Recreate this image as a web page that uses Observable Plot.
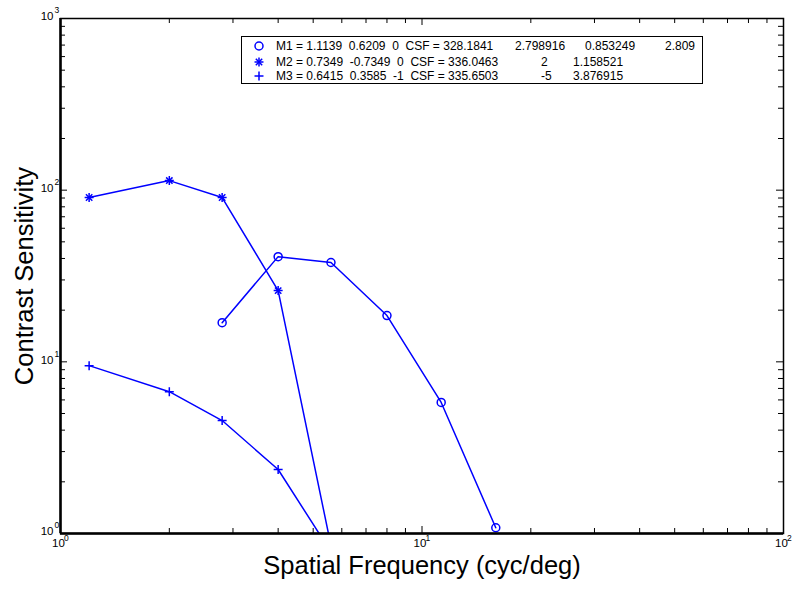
<!DOCTYPE html>
<html>
<head>
<meta charset="utf-8">
<script src="https://cdn.jsdelivr.net/npm/d3@7"></script>
<script src="https://cdn.jsdelivr.net/npm/@observablehq/plot@0.6"></script>
<style>
  html, body { margin: 0; padding: 0; background: #fff; }
  #wrap { position: relative; width: 793px; height: 590px; font-family: "Liberation Sans", Arial, sans-serif; }
  #legend { position: absolute; left: 241px; top: 36px; width: 460px; height: 46px; border: 1.5px solid #000; background: #fff; }
  .row { position: absolute; left: 0; height: 14px; line-height: 14px; font-size: 12px; white-space: pre; color: #000; }
  .row span { position: absolute; top: 0; }
  .row svg { position: absolute; top: -3px; overflow: visible; }
</style>
</head>
<body>
<div id="wrap"><div id="legend"></div></div>
<script>
// ---- data ----
const m1Freq = [2.8, 4, 5.6, 8, 11.3, 16];
const m1CSF  = [16.9, 41.0, 37.9, 18.6, 5.8, 1.08];
const m2Freq = [1.2, 2, 2.8, 4, 5.6];
const m2CSF  = [90.6, 113.7, 90.6, 26.0, 0.85];
const m3Freq = [1.2, 2, 2.8, 4, 5.6];
const m3CSF  = [9.5, 6.7, 4.55, 2.36, 0.78];

const xMajor = [1, 10, 100];
const xMinor = [2, 3, 4, 5, 6, 7, 8, 9, 20, 30, 40, 50, 60, 70, 80, 90];
const yMajor = [1, 10, 100, 1000];
const yMinor = [2, 3, 4, 5, 6, 7, 8, 9, 20, 30, 40, 50, 60, 70, 80, 90, 200, 300, 400, 500, 600, 700, 800, 900];

const legendMain = [
  "M1 = 1.1139  0.6209  0  CSF = 328.1841",
  "M2 = 0.7349  -0.7349  0  CSF = 336.0463",
  "M3 = 0.6415  0.3585  -1  CSF = 335.6503"
];
const legendCol2 = ["2.798916", "2", "-5"];
const legendCol3 = ["0.853249", "1.158521", "3.876915"];
const legendCol4 = ["2.809", "", ""];
const legendSymbols = ["circle", "asterisk", "plus"];

const xLabel = "Spatial Frequency (cyc/deg)";
const yLabel = "Contrast Sensitivity";

// ---- build ----
const blue = "#0000ff";
const toRows = (xs, ys) => xs.map((x, i) => ({x, y: ys[i]}));
const s1 = toRows(m1Freq, m1CSF), s2 = toRows(m2Freq, m2CSF), s3 = toRows(m3Freq, m3CSF);

const W = 793, H = 590, mL = 60, mR = 10, mT = 18, mB = 57;
const pw = W - mL - mR, ph = H - mT - mB;
const majLen = 7, minLen = 5;
const log10 = d => String(Math.round(Math.log10(d)));
const inRange = d => d.y >= 1;

const chart = Plot.plot({
  width: W, height: H,
  marginLeft: mL, marginRight: mR, marginTop: mT, marginBottom: mB,
  style: {fontFamily: "'Liberation Sans', Arial, sans-serif", background: "#fff", color: "#000"},
  x: {type: "log", domain: [1, 100], axis: null},
  y: {type: "log", domain: [1, 1000], axis: null},
  marks: [
    // lines
    Plot.line(s1, {x: "x", y: "y", stroke: blue, strokeWidth: 1.5, clip: true}),
    Plot.line(s2, {x: "x", y: "y", stroke: blue, strokeWidth: 1.5, clip: true}),
    Plot.line(s3, {x: "x", y: "y", stroke: blue, strokeWidth: 1.5, clip: true}),
    // markers
    Plot.dot(s1, {x: "x", y: "y", symbol: "circle", r: 4, stroke: blue, strokeWidth: 1.5, fill: "none"}),
    Plot.dot(s2, {filter: inRange, x: "x", y: "y", symbol: "plus", r: 3, stroke: blue, strokeWidth: 1.5}),
    Plot.dot(s2, {filter: inRange, x: "x", y: "y", symbol: "times", r: 3, stroke: blue, strokeWidth: 1.5}),
    Plot.dot(s3, {filter: inRange, x: "x", y: "y", symbol: "plus", r: 3, stroke: blue, strokeWidth: 1.5}),
    // inward ticks: bottom / top
    Plot.ruleX(xMajor, {x: d => d, insetTop: ph - majLen, stroke: "#000"}),
    Plot.ruleX(xMinor, {x: d => d, insetTop: ph - minLen, stroke: "#000"}),
    Plot.ruleX(xMajor, {x: d => d, insetBottom: ph - majLen, stroke: "#000"}),
    Plot.ruleX(xMinor, {x: d => d, insetBottom: ph - minLen, stroke: "#000"}),
    // inward ticks: left / right
    Plot.ruleY(yMajor, {y: d => d, insetRight: pw - majLen, stroke: "#000"}),
    Plot.ruleY(yMinor, {y: d => d, insetRight: pw - minLen, stroke: "#000"}),
    Plot.ruleY(yMajor, {y: d => d, insetLeft: pw - majLen, stroke: "#000"}),
    Plot.ruleY(yMinor, {y: d => d, insetLeft: pw - minLen, stroke: "#000"}),
    // frame
    Plot.frame({stroke: "#000", strokeWidth: 1.5}),
    Plot.ruleY([1], {stroke: "#000", strokeWidth: 2.5}),
    Plot.ruleX([1], {stroke: "#000", strokeWidth: 2.5}),
    // x tick labels
    Plot.text(xMajor, {x: d => d, frameAnchor: "bottom", dy: 13, dx: -2, text: () => "10", fontSize: 11.5, textAnchor: "middle", fill: "#000"}),
    Plot.text(xMajor, {x: d => d, frameAnchor: "bottom", dy: 7, dx: 3.5, text: log10, fontSize: 8.5, textAnchor: "start", fill: "#000"}),
    // y tick labels
    Plot.text(yMajor, {y: d => d, frameAnchor: "left", dx: -7, dy: -2, text: () => "10", fontSize: 11.5, textAnchor: "end", fill: "#000"}),
    Plot.text(yMajor, {y: d => d, frameAnchor: "left", dx: -6, dy: -8, text: log10, fontSize: 8.5, textAnchor: "start", fill: "#000"}),
    // axis titles
    Plot.text([xLabel], {frameAnchor: "bottom", dy: 40, text: d => d, fontSize: 25.5, textAnchor: "middle", fill: "#000"}),
    Plot.text([yLabel], {frameAnchor: "left", dx: -36, rotate: -90, text: d => d, fontSize: 25.5, textAnchor: "middle", fill: "#000"})
  ]
});
document.getElementById("wrap").prepend(chart);

// ---- legend ----
const legend = document.getElementById("legend");
const rowTops = [2, 18, 32];
const symbolFor = {
  circle: [d3.symbolCircle, 4],
  plus: [d3.symbolPlus, 3],
  times: [d3.symbolTimes, 3]
};
function markerSVG(name) {
  const parts = name === "asterisk" ? ["plus", "times"] : [name];
  const paths = parts.map(p => {
    const [type, r] = symbolFor[p];
    const path = d3.symbol(type, Math.PI * r * r)();
    return `<path d="${path}" fill="none" stroke="${blue}" stroke-width="1.5"/>`;
  }).join("");
  return `<svg width="20" height="20" style="left:7px"><g transform="translate(10,10)">${paths}</g></svg>`;
}
legendMain.forEach((label, i) => {
  const row = document.createElement("div");
  row.className = "row";
  row.style.top = rowTops[i] + "px";
  row.style.width = "460px";
  row.innerHTML = markerSVG(legendSymbols[i]) +
    `<span style="left:34px">${label}</span>` +
    `<span style="left:${legendCol2[i].length > 2 ? 273 : 299}px">${legendCol2[i]}</span>` +
    `<span style="left:${i === 0 ? 343 : 331}px">${legendCol3[i]}</span>` +
    `<span style="left:423px">${legendCol4[i]}</span>`;
  legend.appendChild(row);
});
</script>
</body>
</html>
